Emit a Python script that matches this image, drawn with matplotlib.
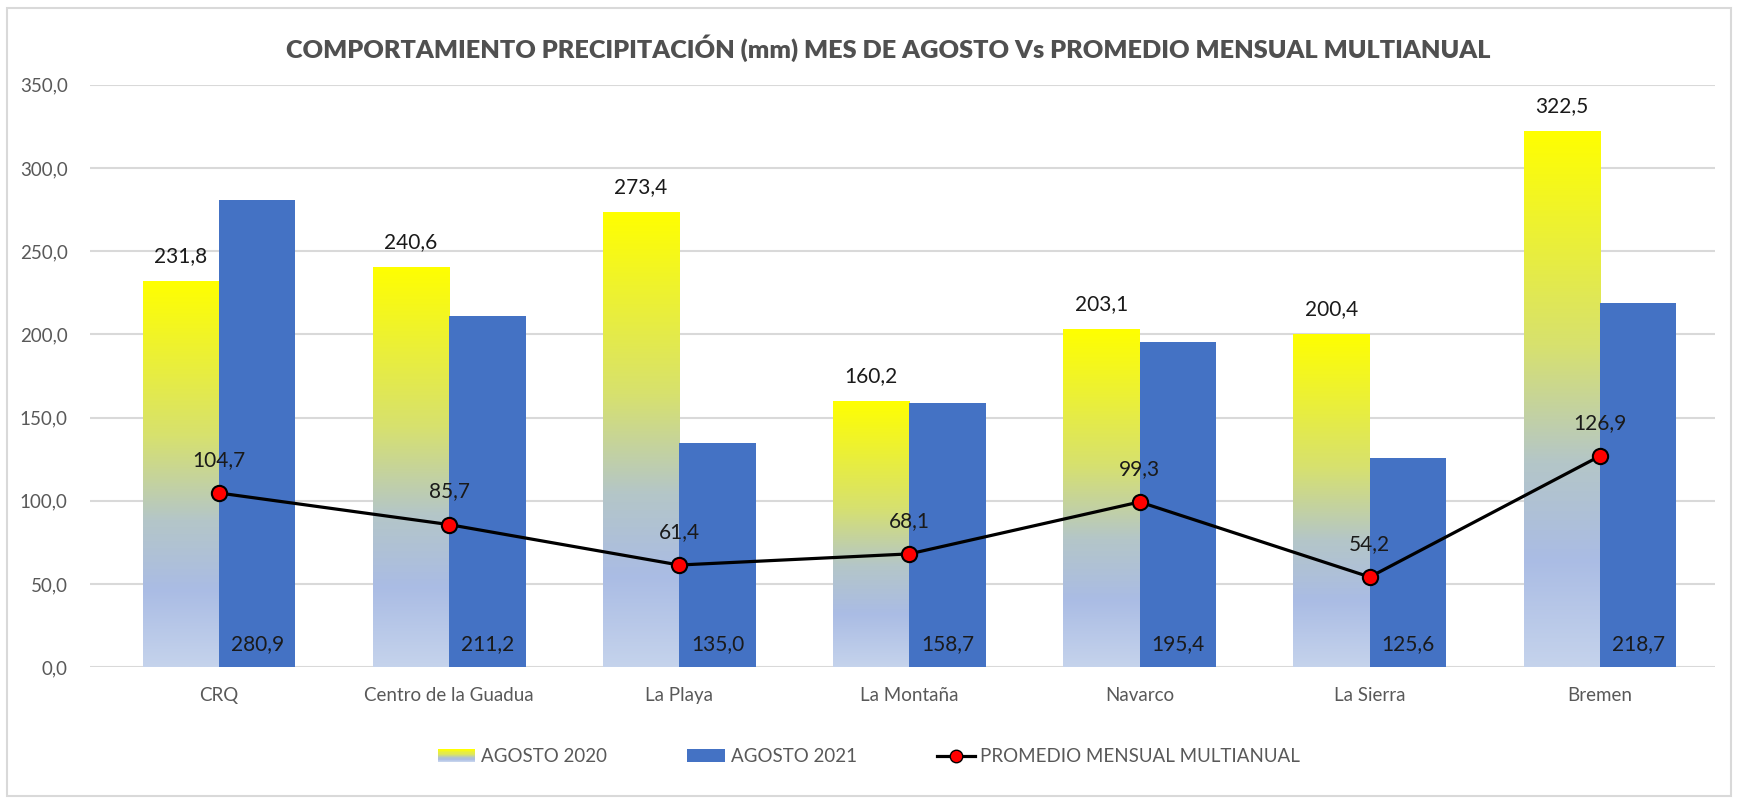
import numpy as np
import matplotlib.pyplot as plt
from matplotlib.patches import Rectangle
from matplotlib.colors import LinearSegmentedColormap
from matplotlib.legend_handler import HandlerBase
from matplotlib.lines import Line2D

estaciones = ['CRQ', 'Centro de la Guadua', 'La Playa', 'La Montaña', 'Navarco', 'La Sierra', 'Bremen']
agosto_2020 = [231.8, 240.6, 273.4, 160.2, 203.1, 200.4, 322.5]
agosto_2021 = [280.9, 211.2, 135.0, 158.7, 195.4, 125.6, 218.7]
promedio = [104.7, 85.7, 61.4, 68.1, 99.3, 54.2, 126.9]

plt.rcParams['font.family'] = ['Lato', 'DejaVu Sans']

azul = '#4472C4'
degradado = LinearSegmentedColormap.from_list('amarillo', [
    (0.0, (197/255, 211/255, 236/255)),
    (0.2, (170/255, 188/255, 228/255)),
    (0.38, (180/255, 198/255, 200/255)),
    (0.6, (215/255, 225/255, 110/255)),
    (1.0, (1.0, 1.0, 0.0)),
])
grad = np.linspace(0, 1, 256).reshape(-1, 1)


class HandlerDegradado(HandlerBase):
    def create_artists(self, legend, orig_handle, xd, yd, w, h, fontsize, trans):
        n = 12
        arts = []
        for i in range(n):
            r = Rectangle((xd, yd + h * i / n), w, h / n + 0.3,
                          facecolor=degradado(i / (n - 1)), edgecolor='none', transform=trans)
            arts.append(r)
        return arts


fig = plt.figure(figsize=(17.38, 8.0), dpi=100)
ax = fig.add_axes([0.0518, 0.166, 0.9350, 0.728])

x = np.arange(len(estaciones))
ancho = 0.332

barras20 = ax.bar(x - ancho / 2, agosto_2020, ancho, color='none', zorder=2)
for b in barras20:
    x0, w, h = b.get_x(), b.get_width(), b.get_height()
    im = ax.imshow(grad, cmap=degradado, origin='lower', aspect='auto',
                   extent=[x0, x0 + w, 0, h], zorder=2)
    im.set_clip_path(b)
barras21 = ax.bar(x + ancho / 2, agosto_2021, ancho, color=azul, zorder=2)

ax.plot(x, promedio, color='black', lw=2.3, marker='o', markersize=11,
        markerfacecolor='#FF0000', markeredgecolor='black', markeredgewidth=1.5, zorder=4)

for i in range(len(x)):
    ax.text(x[i] - ancho / 2, agosto_2020[i] + 15, f'{agosto_2020[i]:.1f}'.replace('.', ','),
            ha='center', va='center', fontsize=15, color='#1a1a1a', zorder=5)
    ax.text(x[i] + ancho / 2, 14, f'{agosto_2021[i]:.1f}'.replace('.', ','),
            ha='center', va='center', fontsize=15, color='#1a1a1a', zorder=5)
    ax.text(x[i], promedio[i] + 20, f'{promedio[i]:.1f}'.replace('.', ','),
            ha='center', va='center', fontsize=15, color='#1a1a1a', zorder=5)

ax.set_xlim(-0.56, 6.5)
ax.set_ylim(0, 350)
ax.set_yticks(np.arange(0, 351, 50))
ax.set_yticklabels([f'{v:.1f}'.replace('.', ',') for v in np.arange(0, 351, 50)])
ax.set_xticks(x)
ax.set_xticklabels(estaciones)
ax.tick_params(axis='both', length=0, labelsize=13.5, colors='#595959')
ax.tick_params(axis='x', pad=14)
ax.tick_params(axis='y', pad=16)
ax.grid(axis='y', color='#D9D9D9', lw=1.5, zorder=0)
for s in ax.spines.values():
    s.set_visible(False)

fig.text(0.511, 0.94, 'COMPORTAMIENTO PRECIPITACIÓN (mm) MES DE AGOSTO Vs PROMEDIO MENSUAL MULTIANUAL',
         ha='center', va='center', fontsize=18.2, fontweight='heavy', color='#505050')

h20 = Rectangle((0, 0), 1, 1)
h21 = Rectangle((0, 0), 1, 1, facecolor=azul)
hprom = Line2D([], [], color='black', lw=2.3, marker='o', markersize=9,
               markerfacecolor='#FF0000', markeredgecolor='black')
fig.legend([h20, h21, hprom], ['AGOSTO 2020', 'AGOSTO 2021', 'PROMEDIO MENSUAL MULTIANUAL'],
           handler_map={h20: HandlerDegradado()}, loc='center', bbox_to_anchor=(0.500, 0.054),
           ncol=3, frameon=False, fontsize=13.5, labelcolor='#595959',
           handlelength=2.0, handletextpad=0.3, columnspacing=4.3)

fig.patches.append(Rectangle((0.004, 0.005), 0.992, 0.985, transform=fig.transFigure,
                             facecolor='none', edgecolor='#D9D9D9', lw=1.5))

fig.savefig('out.png', dpi=100, facecolor='white')
